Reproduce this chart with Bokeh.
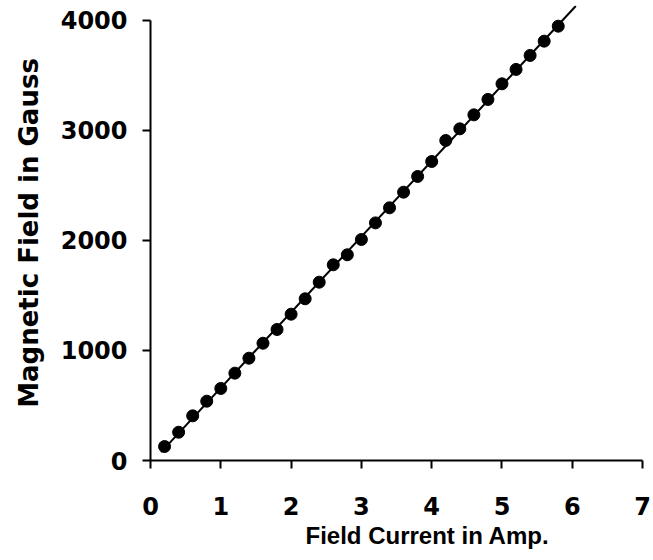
import numpy as np
from bokeh.plotting import figure
from bokeh.models import Range1d, Title, FixedTicker
from bokeh.embed import file_html
from bokeh.resources import INLINE

# ---- data ----
field_current = [0.2, 0.4, 0.6, 0.8, 1.0, 1.2, 1.4, 1.6, 1.8, 2.0,
                 2.2, 2.4, 2.6, 2.8, 3.0, 3.2, 3.4, 3.6, 3.8, 4.0,
                 4.2, 4.4, 4.6, 4.8, 5.0, 5.2, 5.4, 5.6, 5.8]
magnetic_field = [127, 257, 406, 539, 655, 794, 930, 1066, 1191, 1330,
                  1470, 1621, 1779, 1870, 2009, 2160, 2297, 2439, 2582, 2718,
                  2909, 3015, 3142, 3282, 3424, 3555, 3682, 3812, 3948]
fit_x_extent = [0.15, 6.05]
x_ticks = [0, 1, 2, 3, 4, 5, 6, 7]
y_ticks = [0, 1000, 2000, 3000, 4000]
x_title = "Field Current in Amp."
y_title = "Magnetic Field in Gauss"

FONT = "DejaVu Sans"

p = figure(width=653, height=560, output_backend="svg", toolbar_location=None,
           x_range=Range1d(0, 7.084), y_range=Range1d(0, 4136),
           min_border_left=150, min_border_right=5, min_border_top=5,
           min_border_bottom=100)
p.outline_line_color = None
p.xgrid.visible = False
p.ygrid.visible = False
p.background_fill_color = "white"
p.border_fill_color = "white"

# linear fit line
slope, intercept = np.polyfit(field_current, magnetic_field, 1)
fx = np.array(fit_x_extent)
p.line(fx, slope * fx + intercept, line_color="black", line_width=2)
p.scatter(field_current, magnetic_field, marker="circle", size=12,
          fill_color="black", line_color="black")

# x axis
xa = p.xaxis[0]
xa.ticker = FixedTicker(ticks=x_ticks)
xa.bounds = (x_ticks[0], x_ticks[-1])
xa.axis_line_width = 2
xa.major_tick_line_width = 2
xa.major_tick_in = 0
xa.major_tick_out = 8
xa.minor_tick_line_color = None
xa.major_label_text_font = FONT
xa.major_label_text_font_style = "bold"
xa.major_label_text_font_size = "24px"
xa.major_label_text_color = "black"
xa.major_label_standoff = 28

# y axis
ya = p.yaxis[0]
ya.ticker = FixedTicker(ticks=y_ticks)
ya.bounds = (y_ticks[0], y_ticks[-1])
ya.axis_line_width = 2
ya.major_tick_line_width = 2
ya.major_tick_in = 0
ya.major_tick_out = 8
ya.minor_tick_line_color = None
ya.major_label_text_font = FONT
ya.major_label_text_font_style = "bold"
ya.major_label_text_font_size = "24px"
ya.major_label_text_color = "black"
ya.major_label_standoff = 15
ya.axis_label = y_title
ya.axis_label_text_font = FONT
ya.axis_label_text_font_style = "bold"
ya.axis_label_text_font_size = "26px"
ya.axis_label_text_color = "black"
ya.axis_label_standoff = 14

# x axis title (offset to the right as in the reference)
p.add_layout(Title(text=x_title, align="left", offset=155, standoff=4,
                   text_font="Liberation Sans", text_font_style="bold",
                   text_font_size="24px", text_color="black"), "below")

open("out.html", "w").write(file_html(p, INLINE))
